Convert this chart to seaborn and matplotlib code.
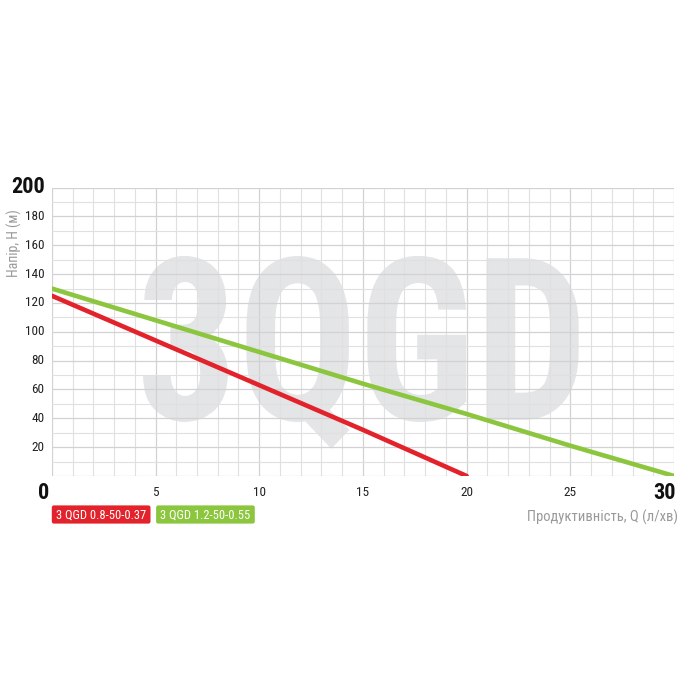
import pandas as pd
import seaborn as sns
import matplotlib.pyplot as plt
from matplotlib.ticker import MultipleLocator
from matplotlib.textpath import TextPath
from matplotlib.font_manager import FontProperties
from matplotlib.patches import PathPatch, FancyBboxPatch
from matplotlib.transforms import Affine2D

# data
q_red = [0, 5, 10, 15, 20]
h_red = [125, 94, 63, 32, 0]
q_green = [0, 5, 10, 15, 20, 25, 30]
h_green = [130, 108, 86, 64, 43, 21, 0]
names = ['3 QGD 0.8-50-0.37', '3 QGD 1.2-50-0.55']
colors = ['#e3232b', '#8cc63f']
x_ticks = [5, 10, 15, 20, 25]
y_ticks = [20, 40, 60, 80, 100, 120, 140, 160, 180]

df = pd.concat([
    pd.DataFrame({'Q': q_red, 'H': h_red, 'model': names[0]}),
    pd.DataFrame({'Q': q_green, 'H': h_green, 'model': names[1]}),
])

sns.set_style('white')
plt.rcParams['font.family'] = ['Roboto Condensed', 'Roboto', 'DejaVu Sans']

fig = plt.figure(figsize=(7, 7), dpi=100)
ax = fig.add_axes([0.074, 0.32, 0.889, 0.412])

# watermark "3QGD", squeezed to a condensed shape
fp = FontProperties(family=['Roboto Condensed', 'Roboto', 'DejaVu Sans'], weight='bold')
wm = TextPath((0, 0), '3QGD', size=1, prop=fp)
cap = TextPath((0, 0), 'D', size=1, prop=fp).get_extents()
ext = wm.get_extents()
sx = 21.0 / ext.width
sy = 112.0 / cap.height
wm = wm.transformed(Affine2D().translate(-ext.x0, -cap.y0).scale(sx, sy).translate(4.4, 39))
ax.add_patch(PathPatch(wm, fc='#e4e5e7', ec='none', zorder=0))

sns.lineplot(data=df, x='Q', y='H', hue='model', palette=colors, linewidth=3.3,
             legend=False, ax=ax, zorder=3)

ax.set_xlim(0, 30)
ax.set_ylim(0, 200)
ax.xaxis.set_major_locator(MultipleLocator(5))
ax.xaxis.set_minor_locator(MultipleLocator(1))
ax.yaxis.set_major_locator(MultipleLocator(20))
ax.yaxis.set_minor_locator(MultipleLocator(10))
ax.grid(which='major', color='#d2d2d2', linewidth=0.9, zorder=1)
ax.grid(which='minor', color='#e0e0e0', linewidth=0.8, zorder=1)
ax.set_axisbelow(True)
for s in ax.spines.values():
    s.set_visible(False)
ax.tick_params(which='both', length=0)
ax.set_xticklabels([])
ax.set_yticklabels([])
ax.set_xlabel('')
ax.set_ylabel('')

# tick labels
for v in x_ticks:
    ax.text(v, -11.5, str(v), ha='center', va='center', fontsize=9.5, color='#222222')
for v in y_ticks:
    ax.text(-0.35, v, str(v), ha='right', va='center', fontsize=9.5, color='#222222')
ax.text(-0.1, -11.5, '0', ha='right', va='center', fontsize=16, fontweight='bold', color='#111111')
ax.text(-0.35, 200.5, '200', ha='right', va='center', fontsize=16, fontweight='bold', color='#111111')
ax.text(30.1, -11.5, '30', ha='right', va='center', fontsize=16, fontweight='bold', color='#111111')

# axis titles
fig.text(0.021, 0.653, 'Напір, Н (м)', rotation=90, ha='center', va='center',
         fontsize=10, color='#9a9a9a')
fig.text(0.968, 0.261, 'Продуктивність, Q (л/хв)', ha='right', va='center',
         fontsize=10.5, color='#9a9a9a')

# legend boxes under the axis
for (x0, w), name, c in zip([(0.074, 0.141), (0.223, 0.141)], names, colors):
    fig.patches.append(FancyBboxPatch((x0, 0.252), w, 0.026,
                                      boxstyle='round,pad=0,rounding_size=0.003',
                                      fc=c, ec='none', transform=fig.transFigure))
    fig.text(x0 + w / 2, 0.2645, name, ha='center', va='center', fontsize=9, color='white')

fig.savefig('out.png', dpi=100, facecolor='white')
